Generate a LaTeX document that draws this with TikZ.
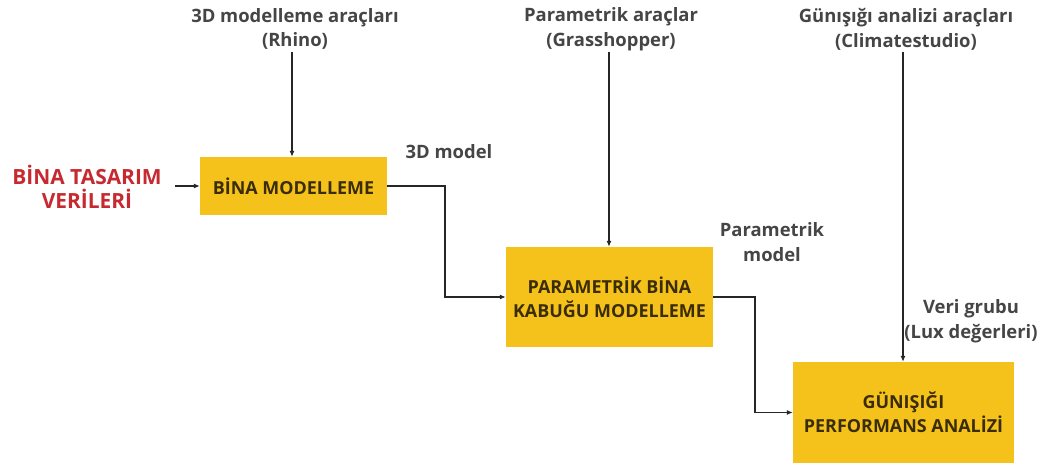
\documentclass[tikz,border=0pt]{standalone}
\usepackage{fontspec}
\setmainfont{Open Sans}
\usetikzlibrary{arrows.meta}
\definecolor{boxfill}{HTML}{F5C21B}
\definecolor{boxtext}{HTML}{3A2C05}
\definecolor{labelgray}{HTML}{454545}
\definecolor{inred}{HTML}{C62A30}
\begin{document}
\begin{tikzpicture}[x=1bp,y=-1bp,
  process/.style={draw=none,fill=boxfill,text=boxtext,font=\fontsize{18}{24}\selectfont\bfseries,align=center,inner sep=0pt},
  toollabel/.style={text=labelgray,font=\fontsize{18.5}{25}\selectfont\bfseries,align=center,inner sep=0pt},
  flowlabel/.style={text=labelgray,font=\fontsize{18.5}{25}\selectfont\bfseries,align=center,inner sep=0pt},
  link/.style={draw=black!85,line width=1.1pt,-{Latex[length=6pt,width=5pt]}}]
  \useasboundingbox (0,0) rectangle (1042,472);
  % process boxes
  \node[process,minimum width=187bp,minimum height=58bp] (bm) at (293.5,186) {BİNA MODELLEME};
  \node[process,minimum width=207bp,minimum height=100bp] (pb) at (609.5,297) {PARAMETRİK BİNA\\KABUĞU MODELLEME};
  \node[process,minimum width=221bp,minimum height=101bp] (ga) at (903.5,412.5) {GÜNIŞIĞI\\PERFORMANS ANALİZİ};
  % input
  \node[text=inred,font=\fontsize{21}{24}\selectfont\bfseries,align=center,inner sep=0pt] (in) at (87,187) {BİNA TASARIM\\VERİLERİ};
  % tool labels
  \node[toollabel] (t1) at (295,29) {3D modelleme araçları\\(Rhino)};
  \node[toollabel] (t2) at (611,29) {Parametrik araçlar\\(Grasshopper)};
  \node[toollabel] (t3) at (906,29) {Günışığı analizi araçları\\(Climatestudio)};
  % flow labels
  \node[flowlabel] (l1) at (449,152) {3D model};
  \node[flowlabel] (l2) at (772,242) {Parametrik\\model};
  \node[flowlabel] (l3) at (971,321) {Veri grubu\\(Lux değerleri)};
  % connectors
  \coordinate (s1) at (175,186);
  \coordinate (d1) at (292,52);
  \coordinate (d2) at (609,52);
  \coordinate (d3) at (903,52);
  \draw[link] (s1) -- (bm.west);
  \draw[link] (d1) -- (d1 |- bm.north);
  \draw[link] (d2) -- (d2 |- pb.north);
  \draw[link] (d3) -- (d3 |- ga.north);
  \draw[link] (bm.east) -- (445,186) |- (pb.west);
  \draw[link] (pb.east) -- (755,297) |- (ga.west);
\end{tikzpicture}
\end{document}
